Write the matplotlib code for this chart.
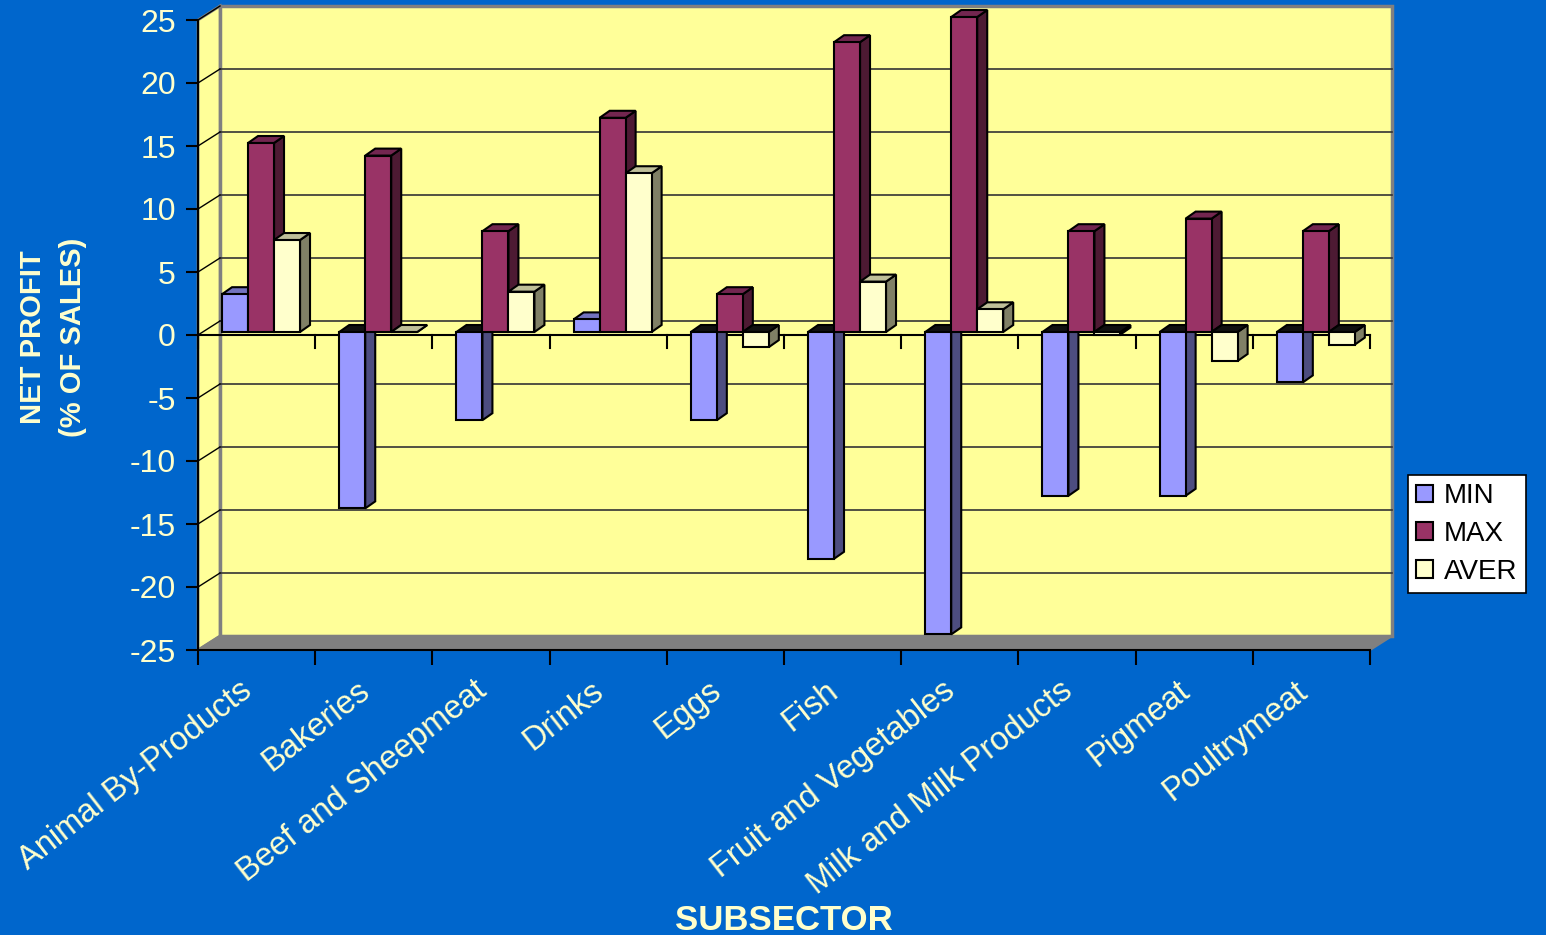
import matplotlib
matplotlib.use("Agg")
import matplotlib.pyplot as plt
from matplotlib.patches import Polygon, Patch

plt.rcParams['font.family'] = ['Liberation Sans', 'DejaVu Sans']

# datos
categorias = ["Animal By-Products", "Bakeries", "Beef and Sheepmeat", "Drinks", "Eggs",
              "Fish", "Fruit and Vegetables", "Milk and Milk Products", "Pigmeat", "Poultrymeat"]
series = ["MIN", "MAX", "AVER"]
val_min = [3.0, -14.0, -7.0, 1.0, -7.0, -18.0, -24.0, -13.0, -13.0, -4.0]
val_max = [15.0, 14.0, 8.0, 17.0, 3.0, 23.0, 25.0, 8.0, 9.0, 8.0]
val_aver = [7.3, 0.0, 3.2, 12.6, -1.2, 4.0, 1.8, -0.2, -2.3, -1.0]
y_ticks = [-25, -20, -15, -10, -5, 0, 5, 10, 15, 20, 25]

# colores: frente, lado, tapa
col_frente = ["#9999FF", "#993366", "#FFFFCC"]
col_lado = ["#4D4D80", "#4D1A33", "#808066"]
col_tapa = ["#7373BF", "#732650", "#BFBF99"]
fondo = "#0066CC"
pared = "#FFFF99"
texto = "#FFFFCC"

W, H = 1546, 935
fig = plt.figure(figsize=(W / 100, H / 100), dpi=100, facecolor=fondo)
ax = fig.add_axes([198 / W, (H - 650) / H, (1370 - 198) / W, (650 - 20) / H])
ax.set_xlim(0, 10)
ax.set_ylim(-25, 25)
ax.patch.set_visible(False)

# profundidad del "3D" en unidades de datos
px_x = (1370 - 198) / 10.0
px_y = (650 - 20) / 50.0
DX, DY = 22 / px_x, 14 / px_y          # pared del fondo
BDX, BDY = 10 / px_x, 7 / px_y         # profundidad de cada barra
OX, OY = 0.205, 3 / px_y               # desplazamiento del grupo
BW = 26 / px_x                         # ancho de barra

# paredes y suelo
ax.add_patch(Polygon([(DX, -25 + DY), (10 + DX, -25 + DY), (10 + DX, 25 + DY), (DX, 25 + DY)],
                     closed=True, fc=pared, ec="#808080", lw=2.5, clip_on=False, zorder=0))
ax.add_patch(Polygon([(0, -25), (DX, -25 + DY), (DX, 25 + DY), (0, 25)],
                     closed=True, fc=pared, ec="#808080", lw=2.0, clip_on=False, zorder=0))
ax.add_patch(Polygon([(0, -25), (10, -25), (10 + DX, -25 + DY), (DX, -25 + DY)],
                     closed=True, fc="#808080", ec="#808080", lw=1.5, clip_on=False, zorder=0.5))

# lineas de cuadricula
for v in y_ticks[1:-1]:
    ax.plot([DX, 10 + DX], [v + DY, v + DY], color="#333333", lw=1.2, zorder=1, clip_on=False)
for v in y_ticks[1:]:
    ax.plot([0, DX], [v, v + DY], color="black", lw=1.0, zorder=1, clip_on=False)

# eje de categorias en cero
ax.plot([0, 10], [0, 0], color="black", lw=1.5, zorder=2, clip_on=False)
for k in range(11):
    ax.plot([k, k], [0, -13 / px_y], color="black", lw=1.5, zorder=2, clip_on=False)

# barras
datos = [val_min, val_max, val_aver]
for s, vals in enumerate(datos):
    xs = [i + OX + s * BW for i in range(len(categorias))]
    z = 3 + s
    ax.bar(xs, vals, width=BW, bottom=OY, align="edge", color=col_frente[s],
           edgecolor="black", linewidth=1.5, zorder=z + 0.5, clip_on=False)
    for x0, v in zip(xs, vals):
        arriba = max(v, 0) + OY
        abajo = min(v, 0) + OY
        ax.add_patch(Polygon([(x0 + BW, abajo), (x0 + BW + BDX, abajo + BDY),
                              (x0 + BW + BDX, arriba + BDY), (x0 + BW, arriba)],
                             closed=True, fc=col_lado[s], ec="black", lw=1.5,
                             zorder=z, clip_on=False))
        tapa = col_tapa[s] if v > 0 else ("#BFBF99" if v == 0 else "#111111")
        ax.add_patch(Polygon([(x0, arriba), (x0 + BDX, arriba + BDY),
                              (x0 + BW + BDX, arriba + BDY), (x0 + BW, arriba)],
                             closed=True, fc=tapa, ec="black", lw=1.5,
                             zorder=z, clip_on=False))

# ejes
for lado in ["top", "right"]:
    ax.spines[lado].set_visible(False)
for lado in ["left", "bottom"]:
    ax.spines[lado].set_color("black")
    ax.spines[lado].set_linewidth(1.5)
    ax.spines[lado].set_zorder(2)
ax.set_yticks(y_ticks)
ax.set_yticklabels([str(t) for t in y_ticks])
ax.tick_params(axis="y", direction="out", length=9, width=1.5, color="black",
               labelcolor=texto, labelsize=23, pad=7)
ax.set_xticks(range(11))
ax.set_xticklabels([])
ax.tick_params(axis="x", direction="out", length=11, width=1.5, color="black")

for i, nombre in enumerate(categorias):
    ax.text(i + 0.5 - 0.15, -27.0, nombre, rotation=38, rotation_mode="anchor",
            ha="right", va="top", fontsize=23.5, color=texto, clip_on=False)

fig.text(53 / W, 1 - 337 / H, "NET PROFIT\n(% OF SALES)", rotation=90, ha="center",
         va="center", fontsize=21, fontweight="bold", color=texto, linespacing=1.55,
         multialignment="center")
fig.text(784 / W, 1 - 921 / H, "SUBSECTOR", ha="center", va="center",
         fontsize=25, fontweight="bold", color=texto)

manejadores = [Patch(facecolor=col_frente[s], edgecolor="black", linewidth=1.5) for s in range(3)]
leg = fig.legend(manejadores, series, loc="upper left", bbox_to_anchor=(1408 / W, 1 - 475 / H),
                 frameon=True, fancybox=False, edgecolor="black", facecolor="white",
                 framealpha=1, fontsize=20, handlelength=0.6, handleheight=0.6,
                 handletextpad=0.4, labelspacing=0.42, borderpad=0.3, borderaxespad=0)
leg.get_frame().set_linewidth(1.2)

fig.savefig("out.png", dpi=100, facecolor=fondo)
